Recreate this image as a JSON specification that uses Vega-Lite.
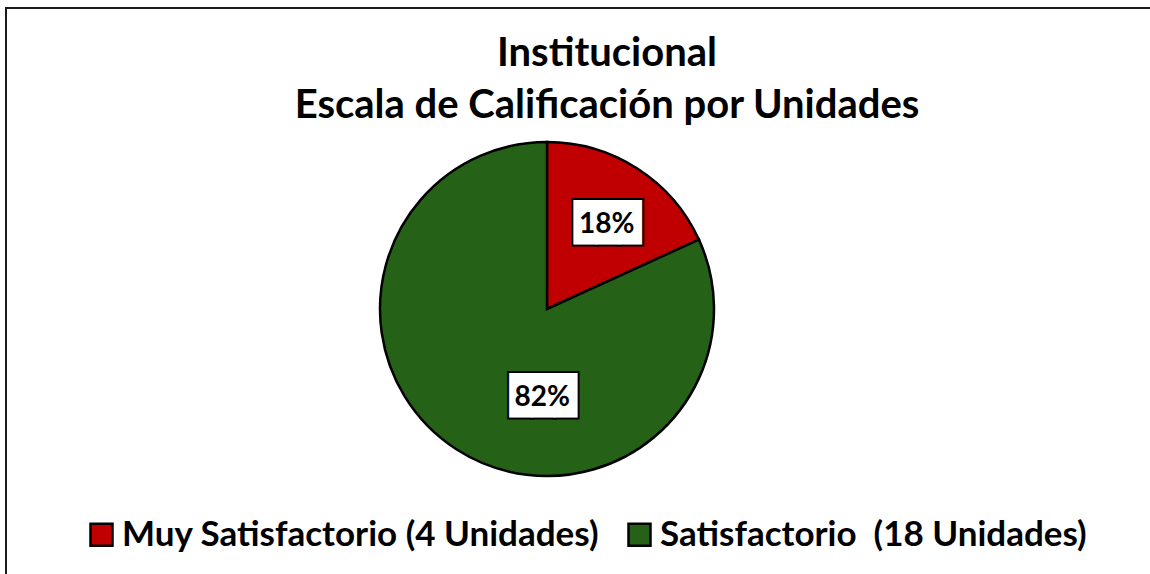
{
  "$schema": "https://vega.github.io/schema/vega-lite/v6.json",
  "width": 1144,
  "height": 566,
  "autosize": {"type": "none"},
  "padding": {"left": 6, "top": 8, "right": 0, "bottom": 0},
  "background": "white",
  "view": {"stroke": "#1a1a1a", "strokeWidth": 2, "strokeDash": [1144, 1710, 566], "fill": "white"},
  "config": {"view": {"stroke": "#1a1a1a", "strokeWidth": 2, "strokeDash": [1144, 1710, 566]}},
  "title": {
    "text": ["Institucional", "Escala de Calificación por Unidades"],
    "font": "Lato", "fontSize": 40, "fontWeight": "bold", "color": "black",
    "anchor": "middle", "frame": "group", "dx": 29, "lineHeight": 52, "offset": -118
  },
  "data": {"values": [
    {"cat": "Muy Satisfactorio (4 Unidades)", "value": 4, "label": "18%"},
    {"cat": "Satisfactorio \u00a0(18 Unidades)", "value": 18, "label": "82%"}
  ]},
  "encoding": {"theta": {"field": "value", "type": "quantitative", "stack": true}},
  "layer": [
    {
      "mark": {"type": "arc", "outerRadius": 167, "stroke": "black", "strokeWidth": 2.5, "xOffset": -31, "yOffset": 18},
      "encoding": {
        "color": {
          "field": "cat", "type": "nominal",
          "scale": {"domain": ["Muy Satisfactorio (4 Unidades)", "Satisfactorio \u00a0(18 Unidades)"], "range": ["#C00000", "#256117"]},
          "legend": {
            "title": null, "orient": "none", "legendX": 78, "legendY": 509, "direction": "horizontal",
            "symbolType": "square", "symbolSize": 484, "symbolStrokeColor": "black", "symbolStrokeWidth": 2.5,
            "symbolOpacity": 1, "labelFont": "Lato", "labelFontSize": 35, "labelFontWeight": "bold", "labelColor": "black",
            "labelOffset": 3, "columnPadding": 22, "labelLimit": 0, "padding": 0
          }
        }
      }
    },
    {
      "mark": {"type": "text", "radius": 103, "xOffset": -31, "yOffset": 18, "dx": 5, "dy": 2, "align": "center", "baseline": "middle", "font": "DejaVu Sans Mono", "fontSize": 37.6, "fill": "black", "stroke": "black", "strokeWidth": 4},
      "encoding": {"detail": {"field": "cat"}, "text": {"condition": {"test": "datum.label === '18%'", "value": "███"}, "value": ""}}
    },
    {
      "mark": {"type": "text", "radius": 103, "xOffset": -31, "yOffset": 18, "dx": 5, "dy": 2, "align": "center", "baseline": "middle", "font": "DejaVu Sans Mono", "fontSize": 37.6, "fill": "white"},
      "encoding": {"detail": {"field": "cat"}, "text": {"condition": {"test": "datum.label === '18%'", "value": "███"}, "value": ""}}
    },
    {
      "mark": {"type": "text", "radius": 103, "xOffset": -31, "yOffset": 18, "dx": 4, "dy": 3, "align": "center", "baseline": "middle", "font": "Lato", "fontSize": 28, "fontWeight": "bold", "fill": "black"},
      "encoding": {"detail": {"field": "cat"}, "text": {"condition": {"test": "datum.label === '18%'", "field": "label"}, "value": ""}}
    },
    {
      "mark": {"type": "text", "radius": 103, "xOffset": -31, "yOffset": 18, "dx": 52, "dy": 1, "align": "center", "baseline": "middle", "font": "DejaVu Sans Mono", "fontSize": 37.6, "fill": "black", "stroke": "black", "strokeWidth": 4},
      "encoding": {"detail": {"field": "cat"}, "text": {"condition": {"test": "datum.label === '82%'", "value": "███"}, "value": ""}}
    },
    {
      "mark": {"type": "text", "radius": 103, "xOffset": -31, "yOffset": 18, "dx": 52, "dy": 1, "align": "center", "baseline": "middle", "font": "DejaVu Sans Mono", "fontSize": 37.6, "fill": "white"},
      "encoding": {"detail": {"field": "cat"}, "text": {"condition": {"test": "datum.label === '82%'", "value": "███"}, "value": ""}}
    },
    {
      "mark": {"type": "text", "radius": 103, "xOffset": -31, "yOffset": 18, "dx": 51, "dy": 2, "align": "center", "baseline": "middle", "font": "Lato", "fontSize": 28, "fontWeight": "bold", "fill": "black"},
      "encoding": {"detail": {"field": "cat"}, "text": {"condition": {"test": "datum.label === '82%'", "field": "label"}, "value": ""}}
    }
  ]
}
